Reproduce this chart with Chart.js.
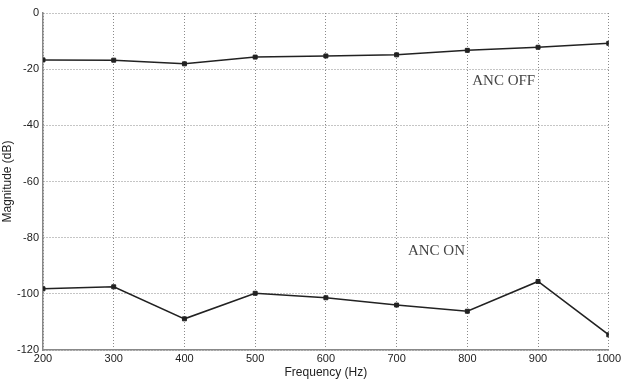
<!DOCTYPE html>
<html>
<head>
<meta charset="utf-8">
<script src="https://cdn.jsdelivr.net/npm/chart.js@4/dist/chart.umd.min.js"></script>
<style>
  html, body { margin: 0; padding: 0; background: #fff; }
  canvas { display: block; }
</style>
</head>
<body>
<canvas id="c" width="623" height="380"></canvas>
<script>
// frequencies (Hz)
var freqs = [200, 300, 400, 500, 600, 700, 800, 900, 1000];
// magnitude (dB)
var ancOff = [-16.7, -16.8, -18.1, -15.7, -15.3, -14.9, -13.3, -12.2, -10.8];
var ancOn = [-98.2, -97.5, -108.9, -99.8, -101.4, -104.0, -106.2, -95.6, -114.6];
// text labels next to the curves
var notes = [
  { text: 'ANC OFF', x: 807, y: -24.1 },
  { text: 'ANC ON', x: 716, y: -84.7 }
];

function pts(ys) {
  return freqs.map(function (f, i) { return { x: f, y: ys[i] }; });
}

// draws the curve labels at data positions
var notePlugin = {
  id: 'notes',
  afterDatasetsDraw: function (chart) {
    var ctx = chart.ctx;
    var xs = chart.scales.x, ys = chart.scales.y;
    ctx.save();
    ctx.font = '15px "Liberation Serif", "Times New Roman", serif';
    ctx.fillStyle = '#444';
    ctx.textAlign = 'left';
    ctx.textBaseline = 'middle';
    notes.forEach(function (n) {
      ctx.fillText(n.text, xs.getPixelForValue(n.x), ys.getPixelForValue(n.y));
    });
    ctx.restore();
  }
};

var lineStyle = {
  borderColor: '#222', borderWidth: 1.5, tension: 0, fill: false,
  pointStyle: 'rect', pointRadius: 2.8, pointBackgroundColor: '#222', pointBorderColor: '#222', pointBorderWidth: 1
};

var gridStyle = { color: '#8a8a8a', lineWidth: 1, drawTicks: false };
var tickFont = { family: '"Liberation Sans", Arial, sans-serif', size: 11 };
var titleFont = { family: '"Liberation Sans", Arial, sans-serif', size: 12 };

new Chart(document.getElementById('c').getContext('2d'), {
  type: 'line',
  data: {
    datasets: [
      Object.assign({ label: 'ANC OFF', data: pts(ancOff) }, lineStyle),
      Object.assign({ label: 'ANC ON', data: pts(ancOn) }, lineStyle)
    ]
  },
  options: {
    responsive: false,
    animation: false,
    layout: { padding: { top: 13, right: 13, left: 0, bottom: 0 } },
    plugins: { legend: { display: false }, tooltip: { enabled: false } },
    scales: {
      x: {
        type: 'linear', min: 200, max: 1000,
        grid: gridStyle,
        border: { display: true, color: '#888', width: 1.5, dash: [1, 2] },
        ticks: {
          stepSize: 100, color: '#222', font: tickFont, padding: 2, maxRotation: 0,
          callback: function (v) { return String(v); }
        },
        title: { display: true, text: 'Frequency (Hz)', color: '#222', font: titleFont, padding: 0 },
        afterFit: function (s) { s.height = 30; }
      },
      y: {
        min: -120, max: 0,
        grid: gridStyle,
        border: { display: true, color: '#888', width: 1.5, dash: [1, 2] },
        ticks: { stepSize: 20, color: '#222', font: tickFont, padding: 4 },
        title: { display: true, text: 'Magnitude (dB)', color: '#222', font: titleFont, padding: 0 },
        afterFit: function (s) { s.width = 43; }
      }
    }
  },
  plugins: [notePlugin]
});
</script>
</body>
</html>
